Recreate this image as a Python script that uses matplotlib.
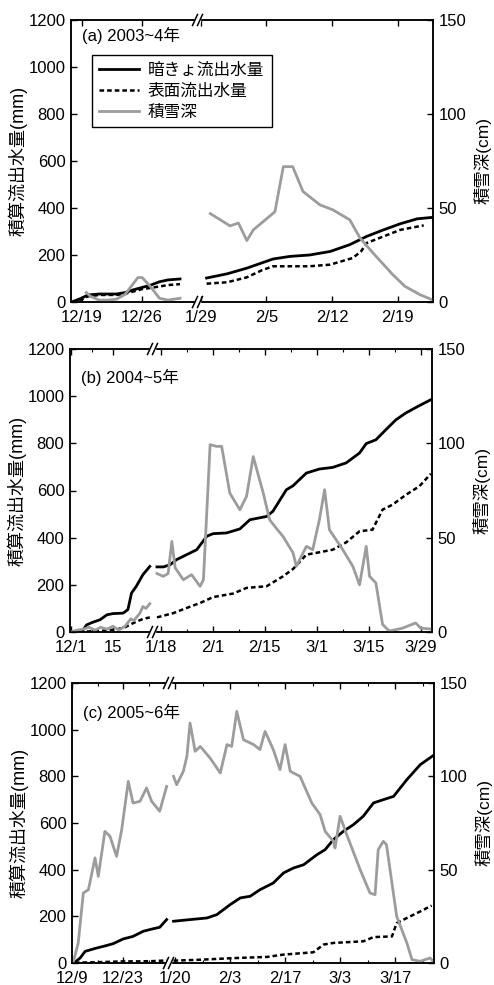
import numpy as np
import matplotlib
matplotlib.use("Agg")
import matplotlib.pyplot as plt
from matplotlib.patches import Rectangle
from matplotlib.ticker import FixedLocator

plt.rcParams["font.family"] = ["Liberation Sans", "Noto Sans CJK JP"]
plt.rcParams["axes.unicode_minus"] = False

# x values are days counted from 1 Dec of each winter (1/1 = 31, 2/1 = 62, 3/1 = 90)
# ---- (a) 2003-04 ----
A_DRAIN_D = [16.8, 17.8, 18.7, 20, 22, 23, 24, 25, 26, 27, 28, 29.4,
             59.6, 61.8, 63.9, 66.7, 68.5, 70.6, 72.8, 74.9, 76.7, 78.5, 80.3, 82.1, 83.7]
A_DRAIN_V = [0, 14, 30, 34, 34, 40, 52, 62, 72, 86, 94, 98,
             102, 120, 144, 183, 194, 200, 215, 244, 279, 307, 333, 354, 360]
A_SURF_D = [16.8, 17.8, 18.7, 20, 22, 23, 24, 25, 26, 27, 28, 29.4,
            59.6, 61.8, 63.9, 65.5, 66.7, 68.5, 70.6, 72.8, 75.2, 76.1, 76.7, 78.5, 80.3, 82.8]
A_SURF_V = [0, 8, 24, 30, 30, 35, 45, 55, 60, 66, 72, 76,
            78, 84, 105, 135, 152, 152, 152, 159, 187, 215, 251, 279, 307, 326]
A_SNOW_D = [18.5, 19, 20, 21, 22, 23, 24, 24.5, 25, 26, 27, 28, 29.4,
            60, 62.1, 63, 63.9, 64.6, 66.9, 67.8, 68.8, 69.9, 71.7, 73.1, 74.9, 76,
            77.4, 79.5, 80.8, 82.4, 83.7]
A_SNOW_V = [5, 3, 1, 1, 1.5, 4, 10, 13, 13, 8, 2, 1, 2,
            47, 40.5, 42, 32.7, 38.4, 48, 72, 72, 58.8, 51.7, 49, 43.7, 34,
            26, 14.5, 8.3, 3.9, 1.2]
A_TICKS = [18, 25, 59, 66, 73, 80]
A_LABELS = ["12/19", "12/26", "1/29", "2/5", "2/12", "2/19"]

# ---- (b) 2004-05 ----
B_DRAIN_D = [0.2, 2, 4, 5.2, 7, 9.7, 12, 14, 17.4, 19, 20.2, 21.8, 24, 26.3,
             47, 48.7, 50.5, 52.3, 55, 57.7, 60.4, 62.1, 65.7, 69.3, 72, 76.5, 78.2,
             81.8, 83.6, 87.2, 90.7, 94.3, 97.9, 101.5, 103.3, 105.9, 108.6, 111.3,
             114, 117.6, 120.7]
B_DRAIN_V = [0, 2, 8, 30, 40, 52, 73, 78, 80, 95, 165, 194, 243, 278,
             276, 276, 285, 307, 328, 349, 406, 417, 420, 437, 476, 490, 512,
             603, 620, 674, 691, 698, 717, 759, 799, 815, 858, 900,
             929, 960, 985]
B_SURF_D = [0.2, 5, 10, 15, 18, 20, 22, 24, 26.3,
            47, 51.4, 55, 58.6, 62.1, 67.5, 71.1, 76.5, 80.9, 83.6, 87.2, 90.7,
            94.3, 97.9, 101.5, 105, 107.7, 110.4, 114, 117.6, 120.7]
B_SURF_V = [0, 2, 5, 10, 20, 33, 45, 55, 62,
            62, 80, 102, 123, 148, 163, 187, 194, 236, 267, 328, 338,
            349, 380, 427, 434, 519, 540, 582, 618, 671]
B_SNOW_D = [0, 2, 4, 6, 8, 10, 12, 14, 16, 18, 19, 20, 21, 22, 23, 24, 25, 26.3,
            47, 48.7, 50, 51, 51.9, 54.1, 56.3, 58.6, 59.5, 61.3, 63, 64.4, 66.6,
            69.3, 71.1, 72.9, 75.6, 77.3, 79.1, 80.9, 83.6, 84.5, 87.2, 88.9, 90.7,
            92.1, 93.4, 97, 99.7, 101.5, 103.3, 104.2, 105.9, 107.7, 109.5, 113,
            116.6, 118, 120.7]
B_SNOW_V = [0, 1, 1.5, 2.5, 1, 2.5, 1.5, 3, 1, 3, 5, 7, 6, 8, 10, 13.5, 12.5, 15,
            31, 29.5, 31, 48, 34, 27.7, 30.4, 24.2, 27.7, 99.3, 98.4, 98.4, 73.6,
            64.8, 71.9, 93, 73.6, 59.5, 55, 50.7, 42, 34.8, 45.4, 43.6, 59.5,
            75.4, 54.2, 43.6, 34.8, 25, 45.4, 29.5, 26, 4, 0.5, 2,
            4.8, 2, 1.6]
B_TICKS = [0, 14, 48, 62, 76, 90, 104, 118]
B_MINOR = [7, 55, 69, 83, 97, 111]
B_LABELS = ["12/1", "15", "1/18", "2/1", "2/15", "3/1", "3/15", "3/29"]

# ---- (c) 2005-06 ----
C_DRAIN_D = [8.8, 9.3, 10.2, 11.6, 14.7, 17, 19.3, 22, 24.7, 27.5, 30, 32, 33.9,
             49.6, 53.8, 58.1, 60.6, 64, 66.6, 69.1, 71.6, 75, 77.6, 80.1, 82.7,
             86.1, 88.2, 90.3, 92.8, 95.4, 97.9, 100.5, 103, 105.6, 109, 112.4, 115.7]
C_DRAIN_V = [0, 10, 21, 50, 64, 73, 83, 103, 114, 136, 146, 153, 186,
             179, 186, 193, 207, 250, 279, 286, 314, 343, 386, 407, 421,
             464, 486, 529, 564, 593, 629, 686, 700, 714, 786, 850, 889]
C_SURF_D = [8.8, 10, 14, 18, 22, 26, 30, 33.9,
            49.6, 56.4, 64.9, 73.4, 77.6, 85.2, 87.8, 90.3, 97.9, 100.5, 105.2,
            106.4, 109, 112.4, 115.3]
C_SURF_V = [0, 2, 3, 5, 7, 7, 8, 11,
            10, 14, 21, 26, 36, 46, 79, 86, 93, 111, 114,
            171, 193, 221, 246]
C_SNOW_D = [8.4, 9.7, 11.1, 12.5, 14.3, 15.2, 17, 18.4, 20.2, 21.6, 23.4, 24.7,
            26.6, 28.4, 29.8, 32, 33.9,
            49.6, 50.4, 52.1, 53, 53.8, 55.1, 56.4, 58.9, 61.5, 63.2, 64.4, 65.7,
            67.4, 70, 71.6, 72.9, 75, 76.7, 78, 79.3, 81.8, 84.8, 86.9, 88.2, 90.3,
            90.7, 92, 93.7, 97.1, 99.6, 100.9, 101.7, 103, 103.8, 106.4, 109, 110.3,
            112.4, 114.9, 115.7]
C_SNOW_V = [0.9, 10.7, 37.5, 39.3, 56.3, 46.4, 70.5, 67.9, 57.1, 71.4, 97.3, 85.7,
            86.6, 93.8, 86.6, 81.3, 94.6,
            100, 95.5, 102.7, 110.7, 128.6, 113.4, 116, 109.8, 101.8, 117, 116, 134.8,
            119.6, 117, 114.3, 124.1, 114.3, 103.6, 117, 102.7, 100, 85.7, 79.5, 70.5,
            65.2, 61.6, 78.6, 68.7, 50, 37.5, 36.6, 60.7, 65.2, 63.4, 25, 10.7, 1.8,
            0.9, 2.7, 0.9]
C_TICKS = [8, 22, 50, 64, 78, 92, 106]
C_MINOR = [15, 29, 57, 71, 85, 99, 113]
C_LABELS = ["12/9", "12/23", "1/20", "2/3", "2/17", "3/3", "3/17"]

PANELS = [
    dict(title="(a) 2003~4年", drain=(A_DRAIN_D, A_DRAIN_V), surf=(A_SURF_D, A_SURF_V),
         snow=(A_SNOW_D, A_SNOW_V), ticks=A_TICKS, labels=A_LABELS, minor=[],
         # (day, pixel) anchors of the broken x axis
         anchors=[(16.72, 71), (31.26, 196), (58.79, 199), (83.79, 433)],
         rect=[71, 20, 433, 302], title_y=0.945, legend=True),
    dict(title="(b) 2004~5年", drain=(B_DRAIN_D, B_DRAIN_V), surf=(B_SURF_D, B_SURF_V),
         snow=(B_SNOW_D, B_SNOW_V), ticks=B_TICKS, labels=B_LABELS, minor=B_MINOR,
         anchors=[(-0.33, 70), (26.7, 151), (46.2, 154), (121.0, 432)],
         rect=[70, 349, 432, 632], title_y=0.90, legend=False),
    dict(title="(c) 2005~6年", drain=(C_DRAIN_D, C_DRAIN_V), surf=(C_SURF_D, C_SURF_V),
         snow=(C_SNOW_D, C_SNOW_V), ticks=C_TICKS, labels=C_LABELS, minor=C_MINOR,
         anchors=[(8.0, 72), (34.0, 167), (48.7, 170), (115.9, 434)],
         rect=[72, 683, 434, 963], title_y=0.896, legend=False),
]

W, H = 494, 985
GRAY = "#9c9c9c"


def make_scale(anchors):
    d, p = map(np.array, zip(*anchors))
    s0 = (p[1] - p[0]) / (d[1] - d[0])
    s1 = (p[-1] - p[-2]) / (d[-1] - d[-2])
    d = np.r_[d[0] - 1e4, d, d[-1] + 1e4]
    p = np.r_[p[0] - 1e4 * s0, p, p[-1] + 1e4 * s1]
    return (lambda x: np.interp(x, d, p)), (lambda y: np.interp(y, p, d))


def with_gap(days, vals, gap):
    days = np.asarray(days, float)
    vals = np.asarray(vals, float)
    i = np.searchsorted(days, gap)
    return np.insert(days, i, np.nan), np.insert(vals, i, np.nan)


def draw_break(ax, xf, wpx, hpx):
    # "//" marks on the top and bottom spines
    dx, sx, sy = 2.5 / wpx, 2.5 / wpx, 5.5 / hpx
    for y in (0, 1):
        ax.add_patch(Rectangle((xf - dx, y - 2 / hpx), 2 * dx, 4 / hpx,
                               transform=ax.transAxes, color="white",
                               clip_on=False, zorder=20))
        for off in (-dx, dx):
            ax.plot([xf + off - sx, xf + off + sx], [y - sy, y + sy],
                    transform=ax.transAxes, color="black", lw=1.1,
                    clip_on=False, zorder=21)


fig = plt.figure(figsize=(W / 100, H / 100), dpi=100)

for p in PANELS:
    l, t, r, b = p["rect"]
    ax = fig.add_axes([l / W, 1 - b / H, (r - l) / W, (b - t) / H])
    fwd, inv = make_scale(p["anchors"])
    ax.set_xscale("function", functions=(fwd, inv))
    x0, x1 = p["anchors"][0][0], p["anchors"][-1][0]
    gap = (p["anchors"][1][0] + p["anchors"][2][0]) / 2
    ax2 = ax.twinx()
    ax.set_xlim(x0, x1)

    h1, = ax.plot(*with_gap(*p["drain"], gap), color="black", lw=2.0,
                  label="暗きょ流出水量")
    h2, = ax.plot(*with_gap(*p["surf"], gap), color="black", lw=1.8,
                  ls=(0, (1.85, 1.2)), label="表面流出水量")
    h3, = ax2.plot(*with_gap(*p["snow"], gap), color=GRAY, lw=2.0,
                   label="積雪深")

    ax.set_ylim(0, 1200)
    ax.set_yticks(range(0, 1201, 200))
    ax2.set_ylim(0, 150)
    ax2.set_yticks([0, 50, 100, 150])
    ax.set_xticks(p["ticks"], p["labels"])
    ax.xaxis.set_minor_locator(FixedLocator(p["minor"]))

    ax.tick_params(axis="x", which="major", direction="in", top=True, length=4,
                   width=1, labelsize=12, pad=6)
    ax.tick_params(axis="x", which="minor", direction="in", top=True, length=2.5,
                   width=0.8)
    ax.tick_params(axis="y", direction="in", right=False, length=4, width=1,
                   labelsize=12, pad=4)
    ax2.tick_params(axis="y", direction="in", length=4, width=1, labelsize=12, pad=4)
    for a in (ax, ax2):
        for s in a.spines.values():
            s.set_linewidth(1.1)

    ax.set_ylabel("積算流出水量(mm)", fontsize=13)
    ax.yaxis.set_label_coords(-0.12, 0.5)
    ax2.set_ylabel("積雪深(cm)", fontsize=12.5)
    ax2.yaxis.set_label_coords(1.113, 0.5)

    ax.text(0.03, p["title_y"], p["title"], transform=ax.transAxes, fontsize=12,
            va="center", ha="left")

    wpx, hpx = r - l, b - t
    xf = (fwd(gap) - fwd(x0)) / (fwd(x1) - fwd(x0))
    draw_break(ax2, xf, wpx, hpx)

    if p["legend"]:
        leg = ax2.legend([h1, h2, h3], [h1.get_label(), h2.get_label(), h3.get_label()],
                         loc="upper left", bbox_to_anchor=(0.058, 0.876),
                         borderaxespad=0, fontsize=12, handlelength=2.4,
                         handletextpad=0.5, labelspacing=0.35, borderpad=0.45,
                         fancybox=False, framealpha=1)
        leg.get_frame().set_edgecolor("black")
        leg.get_frame().set_linewidth(1.0)

fig.savefig("out.png", dpi=100)
